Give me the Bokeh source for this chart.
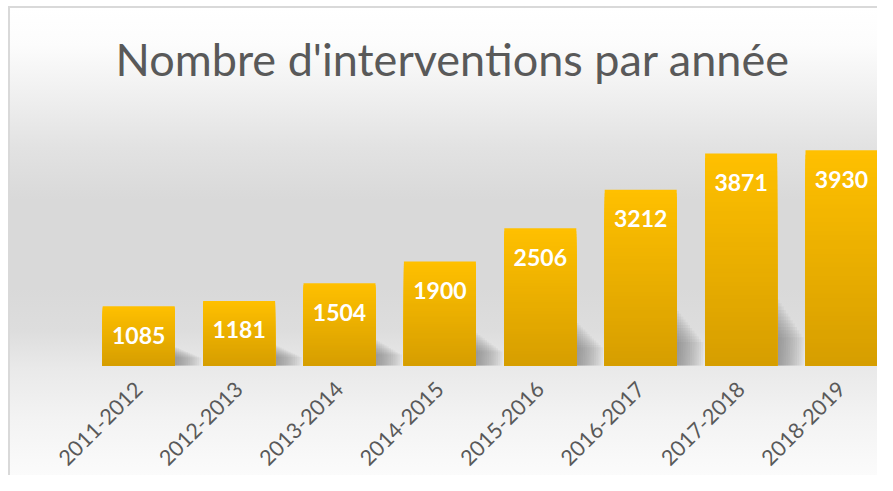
from bokeh.plotting import figure
from bokeh.models import Range1d, ColumnDataSource, FixedTicker
from bokeh.core.properties import value
from bokeh.embed import file_html
from bokeh.resources import INLINE
import math

# ---- data ----
categories = ["2011-2012", "2012-2013", "2013-2014", "2014-2015",
              "2015-2016", "2016-2017", "2017-2018", "2018-2019"]
interventions = [1085, 1181, 1504, 1900, 2506, 3212, 3871, 3930]
title_text = "Nombre d'interventions par année"

# ---- style ----
W, H = 877, 475
BAR_W = 0.717
TOP_RGB = (255, 192, 0)
BOT_RGB = (214, 158, 0)
positions = list(range(len(categories)))

p = figure(x_range=Range1d(-0.5, -0.5 + 789 / 100.4), y_range=Range1d(-218, 4657),
           width=W, height=H, output_backend="svg", toolbar_location=None,
           min_border_left=88, min_border_right=0,
           min_border_top=110, min_border_bottom=97)

p.styles = {
    "background": (
        "linear-gradient(#d9d9d9,#d9d9d9) 8px 6px / 2px 469px no-repeat, "
        "linear-gradient(#d9d9d9,#d9d9d9) 8px 6px / 869px 2px no-repeat, "
        "linear-gradient(to bottom, #ffffff 0%, #fcfcfc 8%, #eeeeee 20%, #e2e2e2 30%, "
        "#d9d9d9 41%, #d9d9d9 60%, #dddddd 69%, #e9e9e9 77%, #f3f3f3 88%, #fbfbfb 100%) "
        "10px 8px / 867px 467px no-repeat, #ffffff"
    ),
}
p.background_fill_alpha = 0
p.border_fill_alpha = 0
p.outline_line_color = None
p.grid.visible = False
p.yaxis.visible = False

p.title.text = title_text
p.title.text_font = "Lato"
p.title.text_font_style = "normal"
p.title.text_font_size = "45px"
p.title.text_color = "#595959"
p.title.align = "left"
p.title.offset = 27
p.title.standoff = 50

ax = p.xaxis[0]
ax.ticker = FixedTicker(ticks=positions)
ax.major_label_overrides = {i: c for i, c in zip(positions, categories)}
ax.axis_line_color = None
ax.major_tick_line_color = None
ax.minor_tick_line_color = None
ax.major_tick_out = 0
ax.major_tick_in = 0
ax.major_label_orientation = math.pi / 4
ax.major_label_text_font = "Lato"
ax.major_label_text_font_size = "21.5px"
ax.major_label_text_color = "#595959"
ax.major_label_standoff = 8

# ---- shadows (soft, layered) ----
L = 12
for j in range(L):
    frac = 0.31 - 0.016 * j
    src = ColumnDataSource(dict(
        left=[x - 0.1 for x in positions],
        right=[x + BAR_W / 2 + 0.022 * (j + 1) for x in positions],
        top=[v * frac for v in interventions],
        bottom=[0] * len(positions)))
    p.quad(left="left", right="right", top="top", bottom="bottom", source=src,
           fill_color="#6a6a6a", fill_alpha=0.065, line_color=None)

# ---- gradient bars: nested bars, tallest (brightest) first ----
N = 48
xs, tops, cols = [], [], []
for k in range(N):
    frac = (N - k) / N
    t = (N - k - 0.5) / N
    c = "#%02x%02x%02x" % tuple(round(b0 + (t0 - b0) * t) for b0, t0 in zip(BOT_RGB, TOP_RGB))
    for x, v in zip(positions, interventions):
        xs.append(x)
        tops.append(v * frac)
        cols.append(c)
bar_src = ColumnDataSource(dict(x=xs, top=tops, color=cols))
p.vbar(x="x", bottom=0, top="top", width=BAR_W, source=bar_src,
       fill_color="color", line_color=None)

# ---- value labels ----
lab_src = ColumnDataSource(dict(x=positions, y=interventions,
                                t=[str(v) for v in interventions]))
p.text(x="x", y="y", text="t", source=lab_src, text_color="white",
       text_font=value("Lato"), text_font_style="bold", text_font_size="23px",
       text_align="center", text_baseline="middle", y_offset=29)

open("out.html", "w").write(file_html(p, INLINE))
